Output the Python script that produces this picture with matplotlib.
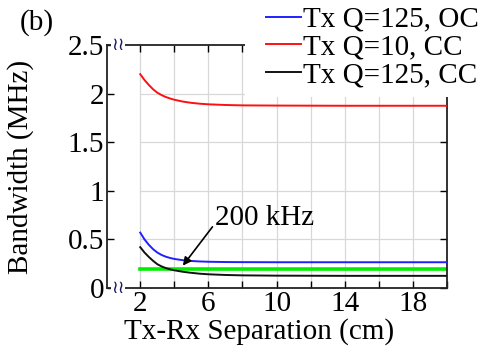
import numpy as np
import matplotlib
matplotlib.use('Agg')
import matplotlib.pyplot as plt
from matplotlib.patches import Rectangle

plt.rcParams['font.family'] = ['Liberation Serif', 'DejaVu Serif']

# 数据：横轴为Tx-Rx距离 (cm)，纵轴为带宽 (MHz)
sep = [2, 2.25, 2.5, 2.75, 3, 3.25, 3.5, 3.75, 4, 4.5, 5, 5.5, 6, 7, 8, 10,
       12, 14, 16, 18, 20]
bw_q125_oc = [0.57, 0.50, 0.445, 0.40, 0.365, 0.34, 0.322, 0.309, 0.299, 0.286,
              0.278, 0.273, 0.270, 0.267, 0.266, 0.265, 0.265, 0.265, 0.265,
              0.265, 0.265]
bw_q10_cc = [2.20, 2.14, 2.09, 2.045, 2.01, 1.985, 1.965, 1.95, 1.937, 1.918,
             1.905, 1.896, 1.89, 1.883, 1.879, 1.877, 1.876, 1.875, 1.875,
             1.875, 1.875]
bw_q125_cc = [0.42, 0.365, 0.32, 0.28, 0.245, 0.222, 0.205, 0.192, 0.182, 0.167,
              0.156, 0.147, 0.141, 0.134, 0.13, 0.127, 0.126, 0.125, 0.125,
              0.125, 0.125]
ref_sep = [2, 20]
ref_bw = [0.2, 0.2]

labels = ['Tx Q=125, OC', 'Tx Q=10, CC', 'Tx Q=125, CC']
colors = ['#2020ff', '#ff1010', '#111111']

fig = plt.figure(figsize=(4.79, 3.49), dpi=100)
ax = fig.add_axes([0.2234, 0.1748, 0.7098, 0.6962])

# 网格只画在 x=2..20 区域内
for gy in np.arange(0.5, 2.5, 0.5):
    ax.plot([2, 20], [gy, gy], color='#d8d8d8', lw=0.9, zorder=1)
for gx in range(2, 21, 2):
    ax.axvline(gx, color='#d8d8d8', lw=0.9, zorder=1)

lines = []
for ys, c, lab in zip([bw_q125_oc, bw_q10_cc, bw_q125_cc], colors, labels):
    ln, = ax.plot(sep, ys, color=c, lw=1.4, label=lab, zorder=3)
    lines.append(ln)
ax.plot(ref_sep, ref_bw, color='#00ee00', lw=2.6, zorder=2.5)

ax.set_xlim(0.05, 20)
ax.set_ylim(0, 2.5)
ax.set_xticks(range(2, 21, 2))
ax.set_xticklabels([str(v) if v in (2, 6, 10, 14, 18) else '' for v in range(2, 21, 2)])
ax.set_yticks([0, 0.5, 1, 1.5, 2, 2.5])
ax.set_yticklabels(['0', '0.5', '1', '1.5', '2', '2.5'])
ax.tick_params(direction='in', length=5, width=1, top=True, right=True,
               labelsize=21, pad=2)
for sp in ax.spines.values():
    sp.set_linewidth(1.3)
    sp.set_color('#222222')

ax.set_xlabel('Tx-Rx Separation (cm)', fontsize=21)
ax.xaxis.set_label_coords(0.447, -0.125)
ax.set_ylabel('Bandwidth (MHz)', fontsize=21)
ax.yaxis.set_label_coords(-0.215, 0.5)

# 断轴符号
for yy in (0, 1):
    ax.text(0.032, yy, '≀≀', transform=ax.transAxes,
            ha='center', va='center', fontsize=13, color='#1a1a60',
            family='DejaVu Sans',
            bbox=dict(facecolor='white', edgecolor='none', pad=0.3),
            zorder=10, clip_on=False)

ax.annotate('200 kHz', xy=(4.5, 0.23), xytext=(6.4, 0.72),
            fontsize=21, ha='left', va='center',
            arrowprops=dict(arrowstyle='-|>', color='black', lw=1.2,
                            mutation_scale=12, shrinkA=0, shrinkB=0,
                            relpos=(0, 0.3)))

# 图例区域的白底
fig.patches.append(Rectangle((0.511, 0.722), 0.489, 0.278, transform=fig.transFigure,
                             facecolor='white', edgecolor='none', zorder=4))
fig.legend(handles=lines, loc='upper left', bbox_to_anchor=(0.53, 1.015),
           frameon=False, fontsize=21, handlelength=1.2, handletextpad=0.1,
           labelspacing=0.04, borderaxespad=0)

fig.text(0.077, 0.935, '(b)', fontsize=21, ha='center', va='center')

fig.savefig('out.png', dpi=100)
